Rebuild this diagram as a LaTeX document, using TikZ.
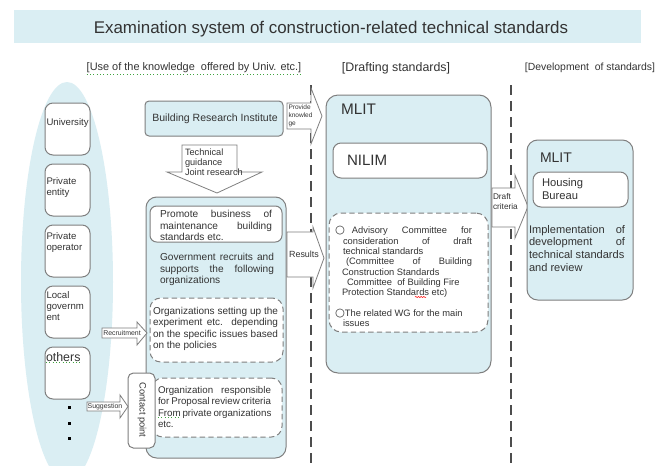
\documentclass[tikz,border=0pt]{standalone}
\usepackage{fontspec}
\setmainfont{Liberation Sans}
\newfontfamily\djv{DejaVu Sans}
\usetikzlibrary{shapes.geometric,decorations.pathmorphing}
\newlength\px
\setlength\px{0.75pt}
\newcommand\fsz[2]{\fontsize{#1}{#2}\selectfont}
\newcommand\jb[2]{\makebox[#1\px][s]{#2}}
\newcommand\wcirc{{\djv\fsz{8.5}{7}○}}
\definecolor{bfill}{HTML}{DAEEF3}
\definecolor{bord}{HTML}{7F7F7F}
\definecolor{txt}{HTML}{333333}
\definecolor{dline}{HTML}{4D4D4D}
\definecolor{spell}{HTML}{3FA33F}
\begin{document}
\begin{tikzpicture}[x=0.75pt,y=-0.75pt,
  every node/.style={text=txt, inner sep=0pt, outer sep=0pt},
  smallbox/.style={draw=bord, fill=white, line width=0.75pt, rounded corners=6pt},
  bluebox/.style={draw=bord, fill=bfill, line width=0.75pt},
  whitebox/.style={draw=bord, fill=white, line width=0.75pt},
  dashbox/.style={draw=bord, fill=white, line width=0.75pt, dash pattern=on 4pt off 2.5pt, rounded corners=8pt},
  barrow/.style={draw=bord, fill=white, line width=0.6pt, line join=miter},
  sepline/.style={draw=dline, line width=1.1pt, dash pattern=on 7.5pt off 4.5pt},
  spellg/.style={draw=spell, line width=0.5pt, dotted},
  spellr/.style={draw=red, line width=0.4pt, decorate, decoration={snake, amplitude=0.4pt, segment length=2pt}},
]
\useasboundingbox (0,0) rectangle (660,465);
\fill[white] (0,0) rectangle (660,465);

% title
\node[fill=bfill, minimum width=627\px, minimum height=33\px, anchor=north west] (banner) at (14,10) {};
\node[font=\fsz{12.7}{15}] (title) at (331,29) {Examination system of construction-related technical standards};

% headers
\node[font=\fsz{8.2}{10}] (h1) at (194,68) {[Use of the knowledge\ \ offered by Univ. etc.]};
\draw[spellg] ([yshift=-0.8pt]h1.south west) -- ([yshift=-0.8pt]h1.south east);
\node[font=\fsz{9.3}{11}] (h2) at (396,68) {[Drafting standards]};
\node[font=\fsz{7.8}{10}] (h3) at (590,68) {[Development\ \ of standards]};

% separators
\coordinate (s1a) at (311,85); \coordinate (s1b) at (311,470);
\coordinate (s2a) at (511,85); \coordinate (s2b) at (511,470);
\draw[sepline] (s1a) -- (s1b);
\draw[sepline] (s2a) -- (s2b);

% left ellipse with actors
\node[ellipse, fill=bfill, minimum width=92\px, minimum height=400\px] (actors) at (67,282) {};
\node[smallbox, minimum width=45\px, minimum height=52\px, anchor=north west] (univ) at (45,103) {};
\node[smallbox, minimum width=45\px, minimum height=52\px, anchor=north west] (prive) at (45,164) {};
\node[smallbox, minimum width=45\px, minimum height=52\px, anchor=north west] (privo) at (45,225) {};
\node[smallbox, minimum width=45\px, minimum height=52\px, anchor=north west] (local) at (45,286) {};
\node[smallbox, minimum width=45\px, minimum height=52\px, anchor=north west] (others) at (45,347) {};
\node[font=\fsz{7.2}{8.3}, anchor=west] (univt) at (46.5,123) {University};
\node[font=\fsz{7.2}{8.3}, anchor=north west, align=left] (privet) at (46.5,177.5) {Private\\entity};
\node[font=\fsz{7.2}{8.3}, anchor=north west, align=left] (privot) at (46.5,232.5) {Private\\operator};
\node[font=\fsz{7.2}{8.3}, anchor=north west, align=left] (localt) at (46.5,291.5) {Local\\governm\\ent};
\node[font=\fsz{9.3}{10}, anchor=west] (otherst) at (46,357) {others};
\draw[spellg] ([yshift=-0.5pt]otherst.south west) -- ([yshift=-0.5pt]otherst.south east);
\node[fill=black, minimum size=3\px] (d1) at (69,407) {};
\node[fill=black, minimum size=3\px] (d2) at (69,423) {};
\node[fill=black, minimum size=3\px] (d3) at (69,438) {};

% Building Research Institute
\node[bluebox, rounded corners=3pt, minimum width=138\px, minimum height=35\px, anchor=north west] (bri) at (145,101) {};
\node[font=\fsz{7.9}{9}] (brit) at (215,119) {Building Research Institute};

% down arrow
\draw[barrow] (182,145) -- (237,145) -- (237,172) -- (262,172) -- (217,193) -- (167,172) -- (182,172) -- cycle;
\node[font=\fsz{6.9}{7.5}, anchor=north west, align=left] (techt) at (185,148.5) {Technical\\guidance\\Joint research};

% government box
\node[bluebox, rounded corners=8pt, minimum width=140\px, minimum height=261\px, anchor=north west] (gov) at (146,197) {};
\node[whitebox, rounded corners=5pt, minimum width=132\px, minimum height=36\px, anchor=north west] (promote) at (150,206) {};
\node[font=\fsz{7.6}{8.6}, anchor=north west, align=left] (promt) at (160,210.3) {\jb{112}{Promote business of}\\\jb{112}{maintenance building}\\standards etc.};
\node[font=\fsz{7.6}{8.6}, anchor=north west, align=left] (govt) at (160,253.3) {\jb{114}{Government recruits and}\\\jb{114}{supports the following}\\organizations};
\node[dashbox, minimum width=133\px, minimum height=64\px, anchor=north west] (org1) at (150,298) {};
\node[font=\fsz{7.5}{8.5}, anchor=north west, align=left] (org1t) at (153,307.3) {\jb{125}{Organizations setting up the}\\\jb{125}{experiment etc. depending}\\\jb{125}{on the specific issues based}\\on the policies};
\node[dashbox, minimum width=130\px, minimum height=59\px, anchor=north west] (org2) at (152,378) {};
\node[font=\fsz{7.3}{8.5}, anchor=north west, align=left] (org2t) at (158,386.5) {\jb{113}{Organization\ \ responsible}\\\jb{113}{for Proposal review criteria}\\\jb{113}{From private organizations}\\etc.};
\draw[spellg] (158,417.5) -- (180,417.5);
\node[whitebox, rounded corners=4pt, minimum width=27\px, minimum height=75\px, anchor=north west] (contact) at (128,373) {};
\node[font=\fsz{7}{9}, rotate=-90] (contactt) at (142,410) {Contact point};

% recruitment / suggestion arrows
\draw[barrow] (102,328) -- (137,328) -- (137,322) -- (147,333) -- (137,345) -- (137,338) -- (102,338) -- cycle;
\node[font=\fsz{5.2}{6}] (recrt) at (122,333) {Recruitment};
\draw[barrow] (87,402) -- (120,402) -- (120,395) -- (128,406.5) -- (120,418) -- (120,411) -- (87,411) -- cycle;
\node[font=\fsz{5.2}{6}] (suggt) at (105,406.5) {Suggestion};

% provide knowledge arrow
\draw[barrow] (287,103) -- (311,103) -- (311,88) -- (322,116) -- (311,144) -- (311,129) -- (287,129) -- cycle;
\node[font=\fsz{4.9}{6}, anchor=north west, align=left] (provt) at (288.5,105) {Provide\\knowled\\ge};

% results arrow
\draw[barrow] (287,232) -- (313,232) -- (313,227) -- (324,258) -- (313,288) -- (313,277) -- (287,277) -- cycle;
\node[font=\fsz{6.7}{8}] (rest) at (304,254) {Results};

% MLIT drafting
\node[bluebox, rounded corners=9pt, minimum width=165\px, minimum height=278\px, anchor=north west] (mlit) at (326,95) {};
\node[font=\fsz{11.5}{13}, anchor=west] (mlitt) at (341,109) {MLIT};
\node[whitebox, rounded corners=6pt, minimum width=154\px, minimum height=35\px, anchor=north west] (nilim) at (333,143) {};
\node[font=\fsz{11.3}{13}, anchor=west] (nilimt) at (347,160) {NILIM};
\node[dashbox, rounded corners=9pt, minimum width=159\px, minimum height=119\px, anchor=north west] (comm) at (329,213) {};
\node[font=\fsz{7}{7.75}, anchor=north west, align=left] (commt) at (335,226.5) {\jb{137}{\wcirc\ Advisory\ \ Committee\ \ for}\\\hspace*{8\px}\jb{129}{consideration of draft}\\\hspace*{8\px}technical standards\\\hspace*{11\px}\jb{126}{(Committee of Building}\\\hspace*{7\px}Construction Standards\\\hspace*{12\px}Committee\ \ of Building Fire\\\hspace*{7\px}Protection Standards etc)\\[10\px]\wcirc The related WG for the main\\\hspace*{8\px}issues};
\draw[spellr] (415,297) -- (426,297);

% draft criteria arrow
\draw[barrow] (492,188) -- (515,188) -- (515,175) -- (528,206.5) -- (515,238) -- (515,227) -- (492,227) -- cycle;
\node[font=\fsz{6.2}{7.5}, anchor=north west, align=left] (draftt) at (493,194) {Draft\\criteria};

% MLIT development
\node[bluebox, rounded corners=8pt, minimum width=106\px, minimum height=160\px, anchor=north west] (mlit2) at (527,140) {};
\node[font=\fsz{10.5}{12}, anchor=west] (mlit2t) at (540,158) {MLIT};
\node[whitebox, rounded corners=6pt, minimum width=95\px, minimum height=35\px, anchor=north west] (hb) at (533,172) {};
\node[font=\fsz{8.4}{9.75}, anchor=north west, align=left] (hbt) at (542,178) {Housing\\Bureau};
\node[font=\fsz{8.3}{9.5}, anchor=north west, align=left] (implt) at (529,225) {\jb{96}{Implementation of}\\\jb{96}{development of}\\technical standards\\and review};
\end{tikzpicture}
\end{document}
